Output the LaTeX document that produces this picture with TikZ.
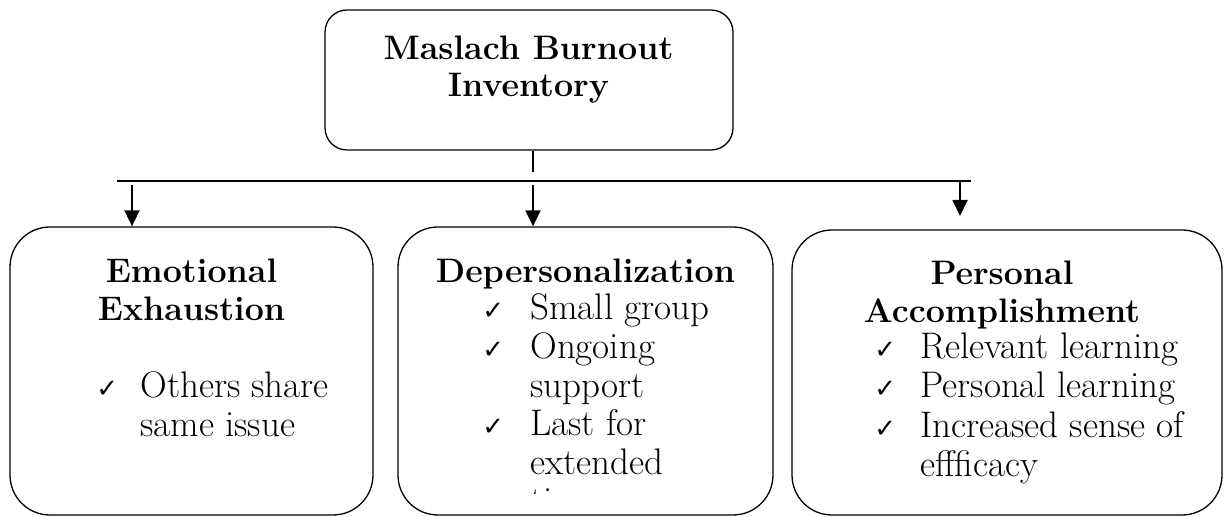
\documentclass[tikz,border=0pt]{standalone}
\usepackage{fontspec}
\usepackage{tikz}
\usetikzlibrary{arrows.meta}
\newfontfamily\symfont{DejaVu Sans}

\tikzset{
  box/.style={draw, line width=0.65pt, rounded corners=20pt, inner sep=0pt},
  head/.style={font=\fontsize{17}{19}\selectfont\bfseries, align=center, anchor=base, inner sep=0pt},
  item/.style={font=\fontsize{18.5}{19.3}\selectfont, align=left, anchor=base west, inner sep=0pt},
  chk/.style={font=\symfont\fontsize{13}{14}\selectfont, anchor=base west, inner sep=0pt},
  arr/.style={-{Triangle[length=8pt,width=7.5pt]}, line width=0.9pt},
}

\begin{document}
\begin{tikzpicture}[x=0.5pt, y=-0.5pt]
        \useasboundingbox (0,0) rectangle (1225,517);

        % Top box (multi-line texts sit on their last baseline)
        \node[box, rounded corners=11pt, minimum width=204pt, minimum height=70pt] (mbi) at (529,80) {};
        \node[head, font=\fontsize{17}{18.5}\selectfont\bfseries] (mbitxt) at (528.5,97) {Maslach Burnout\\Inventory};

        % Connectors
        \coordinate (tick) at (533,172);
        \draw[line width=0.65pt] (mbi.south -| tick) -- (tick);
        \coordinate (busL) at (117,181);
        \coordinate (busR) at (971,181);
        \draw[line width=0.65pt] (busL) -- (busR);

        % Three dimensions
        \node[box, minimum width=181.5pt, minimum height=144pt] (emo) at (191.5,371) {};
        \node[box, minimum width=187.5pt, minimum height=144pt] (dep) at (585.5,371) {};
        \node[box, minimum width=215pt, minimum height=142.5pt] (acc) at (1007,372.5) {};

        \coordinate (aL) at (132,185);
        \coordinate (aM) at (533,185);
        \coordinate (aR) at (960,181);
        \coordinate (aRend) at (960,216);
        \draw[arr] (aL) -- (aL |- emo.north);
        \draw[arr] (aM) -- (aM |- dep.north);
        \draw[arr] (aR) -- (aRend);

        % Left: Emotional Exhaustion
        \node[head] (emohd) at (191.5,321) {Emotional\\Exhaustion};
        \node[chk] (emoc1) at (96,398) {✓};
        \node[item] (emot1) at (140,436.6) {Others share\\same issue};

        % Middle: Depersonalization
        \node[head] (dephd) at (585.5,283) {Depersonalization};
        \node[chk] (depc1) at (482,320) {✓};
        \node[item] (dept1) at (530,320) {Small group};
        \node[chk] (depc2) at (482,358.5) {✓};
        \node[item] (dept2) at (530,397.1) {Ongoing\\support};
        \node[chk] (depc3) at (482,435.5) {✓};
        \begin{scope}
          \clip (398,227) rectangle (773,494);
          \node[item] (dept3) at (530,512.7) {Last for\\extended\\time};
        \end{scope}

        % Right: Personal Accomplishment
        \node[head] (acchd) at (1002,323) {Personal\\Accomplishment};
        \node[chk] (accc1) at (874,359) {✓};
        \node[item] (acct1) at (920,359) {Relevant learning};
        \node[chk] (accc2) at (874,398) {✓};
        \node[item] (acct2) at (920,398) {Personal learning};
        \node[chk] (accc3) at (874,438) {✓};
        \node[item] (acct3) at (920,476.6) {Increased sense of\\effficacy};

    \end{tikzpicture}
\end{document}
